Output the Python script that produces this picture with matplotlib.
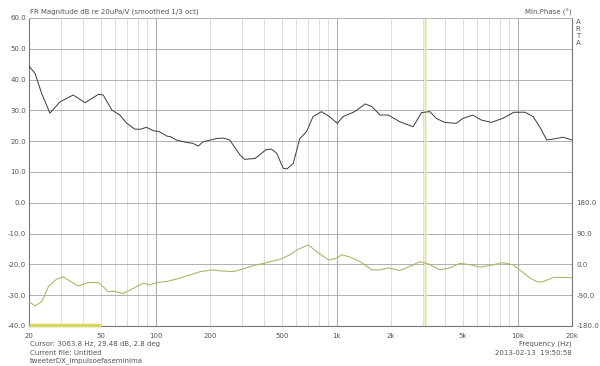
import numpy as np
import matplotlib
matplotlib.use("Agg")
import matplotlib.pyplot as plt
from matplotlib.ticker import FixedLocator, NullFormatter

# Magnitude response (dB re 20uPa/V, 1/3 oct smoothed)
mag_freq = [20, 21.6, 23.5, 26.1, 29.7, 35.1, 40.8, 48.3, 51.4, 57.4, 63.5, 69.4,
            77.0, 82.8, 89.1, 97.4, 105, 115, 122, 130, 148, 161, 172, 183, 218,
            237, 257, 293, 311, 355, 409, 438, 467, 508, 532, 577, 626, 683, 742,
            826, 913, 1010, 1087, 1260, 1440, 1570, 1740, 1930, 2240, 2650, 2950,
            3280, 3560, 3960, 4590, 4990, 5660, 6290, 7160, 8270, 9550, 11000,
            12200, 13400, 14500, 16100, 17800, 20000]
mag_db = [44.4, 42.0, 35.5, 29.1, 32.8, 35.0, 32.5, 35.2, 35.0, 30.1, 28.5, 25.8,
          23.9, 23.9, 24.5, 23.4, 23.1, 21.7, 21.4, 20.4, 19.6, 19.3, 18.4, 19.8,
          20.9, 21.0, 20.4, 15.5, 14.1, 14.4, 17.3, 17.4, 16.1, 11.2, 11.0, 12.8,
          20.8, 23.1, 28.0, 29.6, 28.0, 25.8, 28.0, 29.6, 32.1, 31.2, 28.5, 28.5,
          26.3, 24.7, 29.3, 29.6, 27.4, 26.1, 25.8, 27.4, 28.5, 26.9, 26.1, 27.4,
          29.4, 29.4, 28.0, 24.2, 20.4, 20.8, 21.3, 20.4]

# Minimum phase (degrees)
ph_freq = [20, 21.6, 23.5, 25.6, 28.4, 30.9, 33.7, 37.4, 42.5, 48.3, 51.4, 54.8,
           58.4, 66.4, 75.4, 85.6, 93.2, 101.6, 115, 130, 155, 177, 209, 227, 268,
           293, 346, 409, 488, 552, 602, 698, 778, 902, 984, 1070, 1180, 1350,
           1570, 1740, 1930, 2240, 2540, 2890, 3220, 3730, 4240, 4810, 5470, 6210,
           7060, 8270, 9420, 10300, 11700, 13000, 13900, 15800, 17800, 20000]
ph_deg = [-109, -121, -109, -65, -43, -36, -49, -63, -53, -53, -65, -80,
          -78, -85, -70, -55, -60, -53, -50, -43, -31, -21, -16, -19, -21,
          -16, -4, 5, 15, 28, 42, 57, 37, 13, 17, 28, 22, 8,
          -16, -16, -10, -18, -6, 8, 1, -16, -10, 3, -1, -8,
          -3, 5, -1, -16, -40, -52, -50, -38, -38, -39]

x_ticks = [20, 50, 100, 200, 500, 1000, 2000, 5000, 10000, 20000]
x_labels = ["20", "50", "100", "200", "500", "1k", "2k", "5k", "10k", "20k"]
db_ticks = [60, 50, 40, 30, 20, 10, 0, -10, -20, -30, -40]
ph_ticks = [180, 90, 0, -90, -180]
cursor_freq = 3063.8
range_band = [20, 50]

txt = "#555555"
fs = 5

fig = plt.figure(figsize=(6, 3.66), dpi=100)
ax = fig.add_axes([29 / 600, 1 - 326 / 366, 543 / 600, 308 / 366])
ax.set_xscale("log")
ax.set_xlim(20, 20000)
ax.set_ylim(-40, 60)

# grid
minor = []
for dec in [10, 100, 1000, 10000]:
    for m in range(2, 10):
        f = dec * m
        if 20 < f < 20000 and f not in (100, 1000, 10000):
            minor.append(f)
for f in minor:
    ax.axvline(f, color="#dddddd", lw=0.7, zorder=0)
for f in [100, 1000, 10000]:
    ax.axvline(f, color="#aaaaaa", lw=0.7, zorder=0)
for d in db_ticks:
    ax.axhline(d, color="#b0b0b0", lw=0.7, zorder=0)

# cursor
ax.axvline(cursor_freq, color="#eef0c8", lw=1.8, zorder=1)
ax.axvline(cursor_freq, color="#d6dc90", lw=0.5, zorder=1)

ax.plot(mag_freq, mag_db, color="#3a3a3a", lw=0.7, zorder=3)
ph_as_db = [p / 9.0 - 20 for p in ph_deg]
ax.plot(ph_freq, ph_as_db, color="#b3b36a", lw=0.8, zorder=3)

ax.plot(range_band, [-39.6, -39.6], color="#d8d860", lw=2.5, solid_capstyle="butt",
        zorder=4, clip_on=False)

ax.xaxis.set_major_locator(FixedLocator(x_ticks))
ax.xaxis.set_minor_locator(FixedLocator([]))
ax.xaxis.set_minor_formatter(NullFormatter())
ax.set_xticklabels(x_labels)
ax.set_yticks(db_ticks)
ax.set_yticklabels([f"{d:.1f}" for d in db_ticks])
ax.tick_params(axis="both", length=0, labelsize=fs, colors=txt, pad=2)
ax.tick_params(axis="x", pad=5)

for s in ["top"]:
    ax.spines[s].set_color("#b5b5b5")
    ax.spines[s].set_linewidth(0.7)
for s in ["left", "bottom", "right"]:
    ax.spines[s].set_color("#777777")
    ax.spines[s].set_linewidth(0.8)

ax2 = ax.twinx()
ax2.set_ylim(-180, 720)
ax2.set_yticks(ph_ticks)
ax2.set_yticklabels([f"{p:.1f}" for p in ph_ticks])
ax2.tick_params(axis="y", length=0, labelsize=fs, colors=txt, pad=3)
for s in ax2.spines.values():
    s.set_visible(False)

fig.text(30 / 600, 1 - 12 / 366, "FR Magnitude dB re 20uPa/V (smoothed 1/3 oct)",
         fontsize=fs, color=txt, va="center", ha="left")
fig.text(572 / 600, 1 - 12 / 366, "Min.Phase (°)", fontsize=fs, color=txt,
         va="center", ha="right")
for i, ch in enumerate("ARTA"):
    fig.text(578 / 600, 1 - (22 + i * 7) / 366, ch, fontsize=fs, color=txt,
             va="center", ha="center")

fig.text(30 / 600, 1 - 344 / 366, "Cursor: 3063.8 Hz, 29.48 dB, 2.8 deg",
         fontsize=fs, color=txt, va="center", ha="left")
fig.text(30 / 600, 1 - 353 / 366, "Current file: Untitled",
         fontsize=fs, color=txt, va="center", ha="left")
fig.text(30 / 600, 1 - 361 / 366, "tweeterDX_impulsoefaseminima",
         fontsize=fs, color=txt, va="center", ha="left")
fig.text(572 / 600, 1 - 344 / 366, "Frequency (Hz)",
         fontsize=fs, color=txt, va="center", ha="right")
fig.text(572 / 600, 1 - 353 / 366, "2013-02-13  19:50:58",
         fontsize=fs, color=txt, va="center", ha="right")

fig.savefig("out.png", dpi=100)
